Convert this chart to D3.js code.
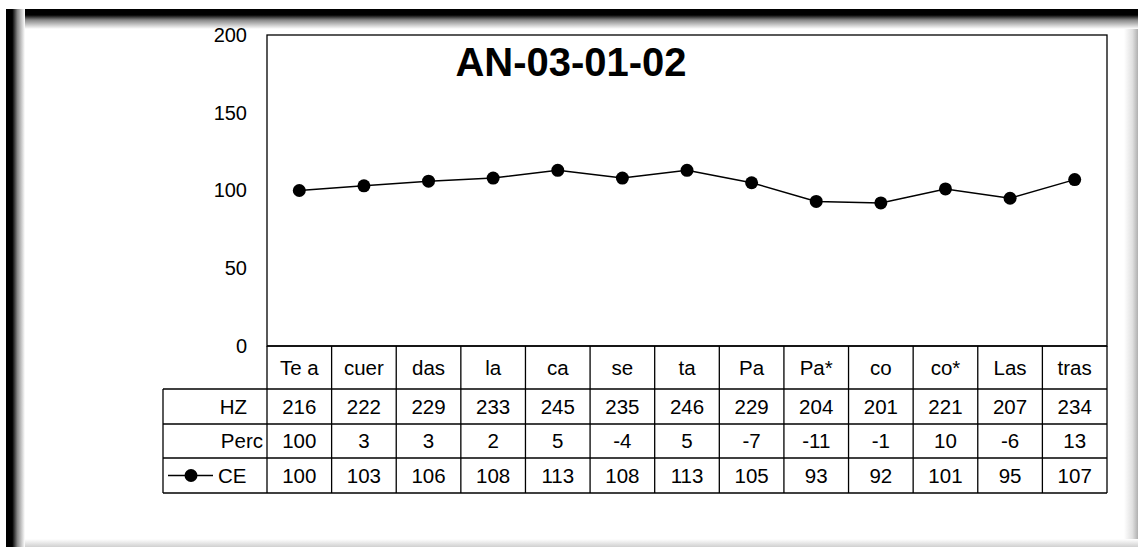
<!DOCTYPE html>
<html><head><meta charset="utf-8">
<script src="https://cdn.jsdelivr.net/npm/d3@7"></script>
<style>
html,body{margin:0;padding:0;background:#fff;}
svg{display:block;}
text{font-family:"Liberation Sans",Arial,sans-serif;fill:#000;}
</style></head>
<body>
<script>
const title = "AN-03-01-02";
const categories = ["Te a","cuer","das","la","ca","se","ta","Pa","Pa*","co","co*","Las","tras"];
const hzValues = [216,222,229,233,245,235,246,229,204,201,221,207,234];
const percValues = [100,3,3,2,5,-4,5,-7,-11,-1,10,-6,13];
const ceValues = [100,103,106,108,113,108,113,105,93,92,101,95,107];
const yTicks = [0,50,100,150,200];
const rowLabels = ["HZ","Perc","CE"];

const W = 1138, H = 547;
const svg = d3.select("body").append("svg").attr("width", W).attr("height", H);
const defs = svg.append("defs");

// window frame shading
function grad(id, x1,y1,x2,y2, stops){
  const g = defs.append("linearGradient").attr("id", id)
    .attr("x1",x1).attr("y1",y1).attr("x2",x2).attr("y2",y2);
  stops.forEach(s => g.append("stop").attr("offset", s[0]).attr("stop-color", s[1]));
}
grad("gTop","0","0","0","1",[[0,"#000"],[0.3,"#000"],[0.55,"#888"],[1,"#fff"]]);
grad("gLeft","0","0","1","0",[[0,"#000"],[0.33,"#000"],[0.6,"#888"],[1,"#fff"]]);
grad("gRight","0","0","1","0",[[0,"#fff"],[0.6,"#e0e0e0"],[1,"#b0b0b0"]]);
grad("gBottom","0","0","0","1",[[0,"#fff"],[1,"#d0d0d0"]]);

svg.append("rect").attr("x",1124).attr("y",9).attr("width",14).attr("height",H-9).attr("fill","url(#gRight)");
svg.append("rect").attr("x",6).attr("y",539).attr("width",W-6).attr("height",8).attr("fill","url(#gBottom)");
svg.append("rect").attr("x",6).attr("y",9).attr("width",W-6).attr("height",20).attr("fill","url(#gTop)");
svg.append("rect").attr("x",6).attr("y",9).attr("width",19).attr("height",H-9).attr("fill","url(#gLeft)");

// plot geometry
const plotL = 267, plotR = 1107, plotT = 35, plotB = 346;
const rowH = [43, 35, 34, 35]; // category row, HZ, Perc, CE
const tableL = 163;

const x = d3.scaleBand().domain(categories).range([plotL, plotR]).padding(0);
const y = d3.scaleLinear().domain([0, 200]).range([plotB, plotT]);

// y axis labels (no tick marks)
const yAxis = d3.axisLeft(y).tickValues(yTicks).tickSize(0).tickPadding(20);
const ya = svg.append("g").attr("transform", `translate(${plotL},0)`).call(yAxis);
ya.select(".domain").remove();
ya.selectAll("text").style("font-family","Liberation Sans, Arial, sans-serif").style("font-size","20px").attr("fill","#000");

// plot border
svg.append("rect").attr("x",plotL).attr("y",plotT).attr("width",plotR-plotL).attr("height",plotB-plotT)
  .attr("fill","none").attr("stroke","#000").attr("stroke-width",1.3);

// title
svg.append("text").attr("x", 571).attr("y", 76).attr("text-anchor","middle")
  .style("font-size","40px").style("font-weight","bold").text(title);

// line + markers
const line = d3.line().x(d => x(d.c) + x.bandwidth()/2).y(d => y(d.v));
const pts = categories.map((c,i) => ({c, v: ceValues[i]}));
svg.append("path").datum(pts).attr("d", line).attr("fill","none").attr("stroke","#000").attr("stroke-width",1.5);
svg.selectAll("circle.pt").data(pts).enter().append("circle").attr("class","pt")
  .attr("cx", d => x(d.c) + x.bandwidth()/2).attr("cy", d => y(d.v)).attr("r", 6.5).attr("fill","#000");

// table
const rowsY = [plotB];
rowH.forEach((h,i) => rowsY.push(rowsY[i] + h));
const tg = svg.append("g").attr("stroke","#000").attr("stroke-width",1.3);
tg.append("line").attr("x1",plotL).attr("x2",plotR).attr("y1",rowsY[0]).attr("y2",rowsY[0]);
for (let i = 1; i < rowsY.length; i++) {
  tg.append("line").attr("x1",tableL).attr("x2",plotR).attr("y1",rowsY[i]).attr("y2",rowsY[i]);
}
categories.forEach(c => {
  tg.append("line").attr("x1",x(c)).attr("x2",x(c)).attr("y1",rowsY[0]).attr("y2",rowsY[4]);
});
tg.append("line").attr("x1",plotR).attr("x2",plotR).attr("y1",rowsY[0]).attr("y2",rowsY[4]);
tg.append("line").attr("x1",tableL).attr("x2",tableL).attr("y1",rowsY[1]).attr("y2",rowsY[4]);

const fs = "20.5px";
function rowText(vals, r){
  svg.append("g").selectAll("text").data(vals).enter().append("text")
    .attr("x", (d,i) => x(categories[i]) + x.bandwidth()/2)
    .attr("y", (rowsY[r] + rowsY[r+1]) / 2)
    .attr("dy","0.36em").attr("text-anchor","middle").style("font-size",fs)
    .text(d => d);
}
rowText(categories, 0);
rowText(hzValues, 1);
rowText(percValues, 2);
rowText(ceValues, 3);

// row labels
const labelRight = [247, 263, null];
rowLabels.forEach((lab, i) => {
  const cy = (rowsY[i+1] + rowsY[i+2]) / 2;
  if (i < 2) {
    svg.append("text").attr("x", labelRight[i]).attr("y", cy).attr("dy","0.36em")
      .attr("text-anchor","end").style("font-size",fs).text(lab);
  } else {
    svg.append("line").attr("x1",168).attr("x2",213).attr("y1",cy).attr("y2",cy).attr("stroke","#000").attr("stroke-width",1.5);
    svg.append("circle").attr("cx",191).attr("cy",cy).attr("r",6.5).attr("fill","#000");
    svg.append("text").attr("x",218).attr("y",cy).attr("dy","0.36em").style("font-size",fs).text(lab);
  }
});
</script>
</body></html>
